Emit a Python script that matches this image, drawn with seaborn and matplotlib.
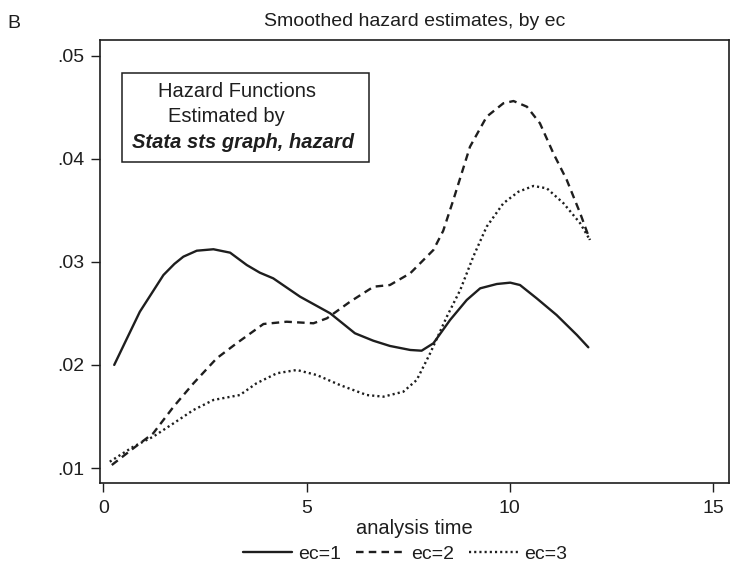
import numpy as np
import pandas as pd
import matplotlib
matplotlib.use("Agg")
import matplotlib.pyplot as plt
from matplotlib.lines import Line2D
import seaborn as sns

# ---- data ----
ec1_x = [0.27, 0.55, 0.90, 1.20, 1.48, 1.75, 1.97, 2.30, 2.71, 3.12, 3.53, 3.85, 4.18,
         4.84, 5.58, 6.19, 6.64, 7.05, 7.55, 7.83, 8.12, 8.53, 8.94, 9.27, 9.68, 10.01,
         10.25, 10.66, 11.15, 11.65, 11.93]
ec1_y = [0.0200, 0.0223, 0.02516, 0.0270, 0.02872, 0.0298, 0.0305, 0.03108, 0.03122,
         0.03089, 0.02969, 0.02895, 0.0284, 0.02662, 0.02501, 0.02307, 0.02235, 0.02184,
         0.02145, 0.02138, 0.02210, 0.02436, 0.02630, 0.02743, 0.02785, 0.02798, 0.02775,
         0.02646, 0.02484, 0.02290, 0.02171]

ec2_x = [0.21, 0.74, 1.23, 1.73, 2.22, 2.79, 3.28, 3.94, 4.51, 5.17, 5.50, 6.07, 6.65,
         7.05, 7.55, 8.12, 8.36, 8.61, 9.02, 9.43, 9.84, 10.09, 10.42, 10.74, 11.07,
         11.40, 11.73, 11.97]
ec2_y = [0.01029, 0.01191, 0.01337, 0.01595, 0.01822, 0.02064, 0.02210, 0.02397, 0.02419,
         0.02404, 0.02452, 0.02613, 0.02759, 0.02775, 0.02889, 0.03115, 0.03300, 0.03600,
         0.04117, 0.04408, 0.04538, 0.04560, 0.04505, 0.04344, 0.04053, 0.03794, 0.03471,
         0.03212]

ec3_x = [0.16, 0.74, 1.23, 1.73, 2.22, 2.71, 3.36, 3.77, 4.27, 4.76, 5.25, 5.82, 6.48,
         6.89, 7.38, 7.71, 8.04, 8.45, 8.78, 9.10, 9.43, 9.84, 10.21, 10.58, 10.91, 11.32,
         11.73, 11.97]
ec3_y = [0.01061, 0.01207, 0.01304, 0.01434, 0.01563, 0.01660, 0.01708, 0.01822, 0.01919,
         0.01951, 0.01902, 0.01805, 0.01708, 0.01692, 0.01740, 0.01854, 0.02113, 0.02468,
         0.02727, 0.03050, 0.03341, 0.03568, 0.03680, 0.03736, 0.03713, 0.03568, 0.03374,
         0.03212]

groups = ["ec=1", "ec=2", "ec=3"]
x_ticks = [0, 5, 10, 15]
y_ticks = [0.01, 0.02, 0.03, 0.04, 0.05]
y_tick_labels = [".01", ".02", ".03", ".04", ".05"]

df = pd.concat([
    pd.DataFrame({"t": ec1_x, "h": ec1_y, "ec": groups[0]}),
    pd.DataFrame({"t": ec2_x, "h": ec2_y, "ec": groups[1]}),
    pd.DataFrame({"t": ec3_x, "h": ec3_y, "ec": groups[2]}),
], ignore_index=True)

sns.set_theme(style="white")
plt.rcParams["font.family"] = ["Liberation Sans", "DejaVu Sans"]

W, H = 730, 573
fig = plt.figure(figsize=(W / 100, H / 100), dpi=100)
ax = fig.add_axes([100 / W, 1 - 483 / H, 629 / W, 443 / H])

ink = "#1e1e1e"
dash_map = {"ec=1": "", "ec=2": (3.2, 2.2), "ec=3": (0.9, 1.3)}
sns.lineplot(data=df, x="t", y="h", hue="ec", style="ec",
             palette={g: ink for g in groups}, dashes=dash_map,
             linewidth=1.7, sort=True, estimator=None, legend=False, ax=ax)

ax.set_xlim(-0.08, 15.39)
ax.set_ylim(0.008545, 0.05152)
ax.set_xticks(x_ticks)
ax.set_xticklabels([str(v) for v in x_ticks])
ax.set_yticks(y_ticks)
ax.set_yticklabels(y_tick_labels)
ax.tick_params(axis="both", which="major", direction="out", length=6.5, width=1,
               color=ink, labelsize=14, labelcolor=ink, pad=5)
ax.tick_params(axis="x", pad=6)
ax.tick_params(axis="y", left=True)
ax.tick_params(axis="x", bottom=True)
ax.set_xlabel("")
ax.set_ylabel("")
for s in ax.spines.values():
    s.set_visible(True)
    s.set_color(ink)
    s.set_linewidth(1.2)

# annotation box
ax.add_patch(plt.Rectangle((0.0345, 0.7246), 0.3932, 0.2009, transform=ax.transAxes,
                           fill=False, edgecolor=ink, linewidth=1.1))
ax.text(0.2173, 0.8833, "Hazard Functions", transform=ax.transAxes, ha="center",
        va="center", fontsize=14.5, color=ink)
ax.text(0.2003, 0.8269, "Estimated by", transform=ax.transAxes, ha="center",
        va="center", fontsize=14.5, color=ink)
ax.text(0.2273, 0.7675, "Stata sts graph, hazard", transform=ax.transAxes, ha="center",
        va="center", fontsize=14.5, color=ink, fontweight="bold", fontstyle="italic")

fig.text(414.5 / W, 1 - 21 / H, "Smoothed hazard estimates, by ec", ha="center",
         va="center", fontsize=14, color=ink)
fig.text(14 / W, 1 - 24 / H, "B", ha="center", va="center", fontsize=14, color=ink)
fig.text(414.5 / W, 1 - 529 / H, "analysis time", ha="center", va="center",
         fontsize=14.5, color=ink)

handles = [
    Line2D([], [], color=ink, linewidth=1.7, linestyle="-"),
    Line2D([], [], color=ink, linewidth=1.7, dashes=dash_map["ec=2"]),
    Line2D([], [], color=ink, linewidth=1.7, dashes=dash_map["ec=3"]),
]
fig.legend(handles, groups, loc="center", bbox_to_anchor=(405 / W, 1 - 554 / H),
           ncol=3, frameon=False, fontsize=14, handlelength=2.5, handletextpad=0.3,
           columnspacing=0.8, borderpad=0, labelcolor=ink)

fig.savefig("out.png", dpi=100)
